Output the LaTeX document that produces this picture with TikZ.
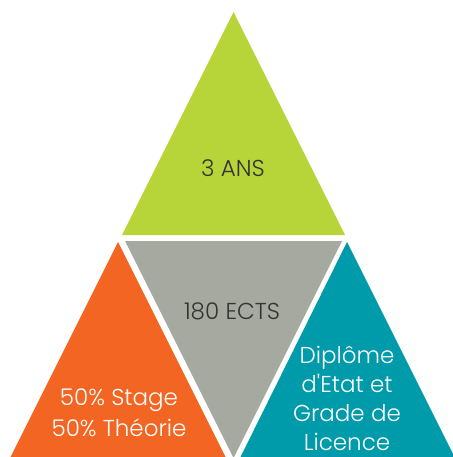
\documentclass[tikz,border=0pt]{standalone}
\usepackage{fontspec}
\setmainfont{Poppins}[UprightFont={* Light}]
\definecolor{vert}{HTML}{B7D438}
\definecolor{gris}{HTML}{A5A99F}
\definecolor{orange}{HTML}{F26522}
\definecolor{bleu}{HTML}{009BAA}
\definecolor{texte}{HTML}{333333}
\begin{document}
\begin{tikzpicture}[x=1pt, y=-1pt, line join=round]
			\tikzset{etiquette/.style={align=center, inner sep=0pt, font=\fontsize{23}{29}\selectfont}}
			\useasboundingbox (0,0) rectangle (452,457);
			\fill[vert] (122,235)--(345,235)--(233.5,12)--cycle;
			\fill[gris] (125,241)--(342,241)--(233.5,458)--cycle;
			\fill[orange] (118,242)--(226,458)--(10,458)--cycle;
			\fill[bleu] (347,242)--(455,458)--(240,458)--cycle;
			\node[etiquette, texte] (ans) at (233,168) {3 ANS};
			\node[etiquette, texte] (ects) at (232,311) {180 ECTS};
			\node[etiquette, white, font=\fontsize{23}{31}\selectfont] (stage) at (119,413) {50\% Stage\\50\% Théorie};
			\node[etiquette, white] (diplome) at (347,398) {Diplôme\\d\textquotesingle Etat et\\Grade de\\Licence};
\end{tikzpicture}
\end{document}
